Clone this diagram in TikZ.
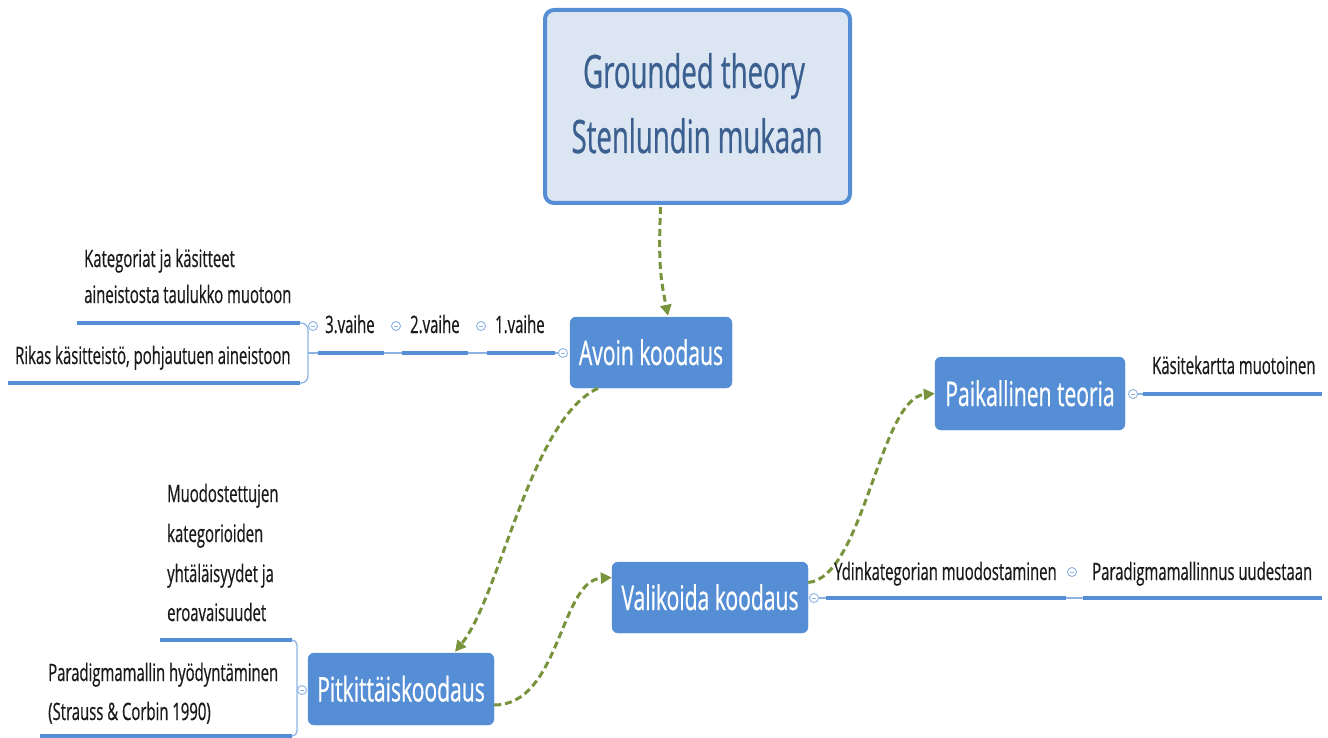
\documentclass[tikz,border=0pt]{standalone}
\usepackage{fontspec}
\setmainfont{Open Sans}[FakeStretch=0.62,FakeBold=0.6]
\newfontfamily\titlefont{Open Sans}[FakeStretch=0.6,FakeBold=0.6]
\usetikzlibrary{arrows.meta,calc}
\definecolor{boxblue}{HTML}{558ED5}
\definecolor{titlefill}{HTML}{DCE6F2}
\definecolor{titletext}{HTML}{3B5F8F}
\definecolor{arrowgreen}{HTML}{77933C}
\definecolor{thinblue}{HTML}{8DB3E2}
\definecolor{textdark}{HTML}{1A1A1A}
\tikzset{
  topicbox/.style={fill=boxblue, draw=boxblue, rounded corners=6pt, inner sep=0pt, anchor=center},
  topictext/.style={text=white, font=\fontsize{34}{38}\selectfont, inner sep=0pt, anchor=base},
  titlebox/.style={fill=titlefill, draw=boxblue, line width=4pt, rounded corners=9pt,
    inner sep=0pt, minimum width=305pt, minimum height=193pt},
  titletxt/.style={text=titletext, font=\titlefont\fontsize{46}{64}\selectfont, inner sep=0pt, anchor=base},
  lab/.style={font=\fontsize{24}{28}\selectfont, text=textdark, inner sep=0pt, anchor=base west},
  garrow/.style={draw=arrowgreen, line width=3pt, dash pattern=on 7pt off 4pt,
    -{Triangle[length=11pt,width=11pt,fill=arrowgreen]}},
  uline/.style={draw=boxblue, line width=4pt},
  tline/.style={draw=thinblue, line width=1.3pt},
  collapse/.style={circle, draw=thinblue, line width=0.9pt, fill=white, minimum size=9pt,
    inner sep=0pt, path picture={\draw[thinblue, line width=0.9pt]
      ([xshift=-2.2pt]path picture bounding box.center) -- ([xshift=2.2pt]path picture bounding box.center);}}
}
\begin{document}
\begin{tikzpicture}[x=1pt,y=-1pt]
\useasboundingbox (0,0) rectangle (1328,738);

% main nodes
\node[titlebox] (title) at (697.5,106.5) {};
\node[titletxt] (t1) at (694,88) {Grounded theory};
\node[titletxt] (t2) at (697,153) {Stenlundin mukaan};
\node[topicbox, minimum width=162pt, minimum height=71pt] (avoin) at (651,352.5) {};
\node[topictext] (avoint) at (651,365) {Avoin koodaus};
\node[topicbox, minimum width=190pt, minimum height=73pt] (paik) at (1030,393.5) {};
\node[topictext] (paikt) at (1030,406) {Paikallinen teoria};
\node[topicbox, minimum width=196pt, minimum height=71pt] (vali) at (710,597.5) {};
\node[topictext] (valit) at (710,610) {Valikoida koodaus};
\node[topicbox, minimum width=186pt, minimum height=72pt] (pitk) at (401,689) {};
\node[topictext] (pitkt) at (401,701.5) {Pitkittäiskoodaus};

% dashed green connectors
\draw[garrow] ($(title.south)+(-37,2)$) .. controls +(-2,55) and +(-8,-40) .. ($(avoin.north)+(17,-1)$);
\draw[garrow] ($(avoin.south)+(-53,0)$) .. controls +(-68,32) and +(45,-55) .. ($(pitk.north)+(54,-1)$);
\draw[garrow] ($(pitk.east)+(0,16)$) .. controls +(66,0) and +(-52,3) .. ($(vali.west)+(0,-20)$);
\draw[garrow] ($(vali.east)+(0,-15)$) .. controls +(55,-5) and +(-55,5) .. (paik.west);

% ---- Avoin koodaus branch
\node[collapse] (ca) at (563,353) {};
\coordinate (v1r) at (555,353); \coordinate (v1l) at (487,353);
\coordinate (v2r) at (468,353); \coordinate (v2l) at (402,353);
\coordinate (v3r) at (384,353); \coordinate (v3l) at (318,353);
\draw[tline] (ca.west) -- (v1r);
\draw[uline] (v1r) -- (v1l);
\draw[tline] (v1l) -- (v2r);
\draw[uline] (v2r) -- (v2l);
\draw[tline] (v2l) -- (v3r);
\draw[uline] (v3r) -- (v3l);
\coordinate (brk) at (308,353);
\draw[tline] (v3l) -- (brk);
\coordinate (k1r) at (300,323); \coordinate (k1l) at (77,323);
\coordinate (k2r) at (300,383); \coordinate (k2l) at (8,383);
\draw[tline, rounded corners=7pt] (k1r) -| (brk) |- (k2r);
\draw[uline] (k1r) -- (k1l);
\draw[uline] (k2r) -- (k2l);
\node[lab] (l1) at (495,333) {1.vaihe};
\node[lab] (l2) at (410,333) {2.vaihe};
\node[lab] (l3) at (325,333) {3.vaihe};
\node[collapse] (c1) at (481,326) {};
\node[collapse] (c2) at (396,326) {};
\node[collapse] (c3) at (313,326) {};
\node[lab] (k1a) at (84,267) {Kategoriat ja käsitteet};
\node[lab] (k1b) at (84,303) {aineistosta taulukko muotoon};
\node[lab] (k2a) at (15,364) {Rikas käsitteistö, pohjautuen aineistoon};

% ---- Paikallinen teoria branch
\node[collapse] (cp) at (1133,394) {};
\coordinate (p1l) at (1143,394); \coordinate (p1r) at (1322,394);
\draw[tline] (cp.east) -- (p1l);
\draw[uline] (p1l) -- (p1r);
\node[lab] (pt) at (1152,374) {Käsitekartta muotoinen};

% ---- Valikoida koodaus branch
\node[collapse] (cv) at (814,598) {};
\coordinate (y1l) at (826,598); \coordinate (y1r) at (1066,598);
\coordinate (y2l) at (1083,598); \coordinate (y2r) at (1322,598);
\draw[tline] (cv.east) -- (y1l);
\draw[uline] (y1l) -- (y1r);
\draw[tline] (y1r) -- (y2l);
\draw[uline] (y2l) -- (y2r);
\node[lab] (yt) at (834,580) {Ydinkategorian muodostaminen};
\node[collapse] (cy) at (1072,572) {};
\node[lab] (pu) at (1092,580) {Paradigmamallinnus uudestaan};

% ---- Pitkittäiskoodaus branch
\node[collapse] (cpk) at (302,690) {};
\coordinate (m1r) at (292,640); \coordinate (m1l) at (160,640);
\coordinate (m2r) at (292,736); \coordinate (m2l) at (40,736);
\coordinate (mbk) at (297,690);
\draw[tline, rounded corners=5pt] (m1r) -| (mbk) |- (m2r);
\draw[tline] (mbk) -- (cpk.west);
\draw[uline] (m1r) -- (m1l);
\draw[uline] (m2r) -- (m2l);
\node[lab] (ma) at (167,502) {Muodostettujen};
\node[lab] (mb) at (167,542) {kategorioiden};
\node[lab] (mc) at (167,582) {yhtäläisyydet ja};
\node[lab] (md) at (167,621) {eroavaisuudet};
\node[lab] (pa) at (48,681) {Paradigmamallin hyödyntäminen};
\node[lab] (pb) at (48,720) {(Strauss \& Corbin 1990)};
\end{tikzpicture}
\end{document}
